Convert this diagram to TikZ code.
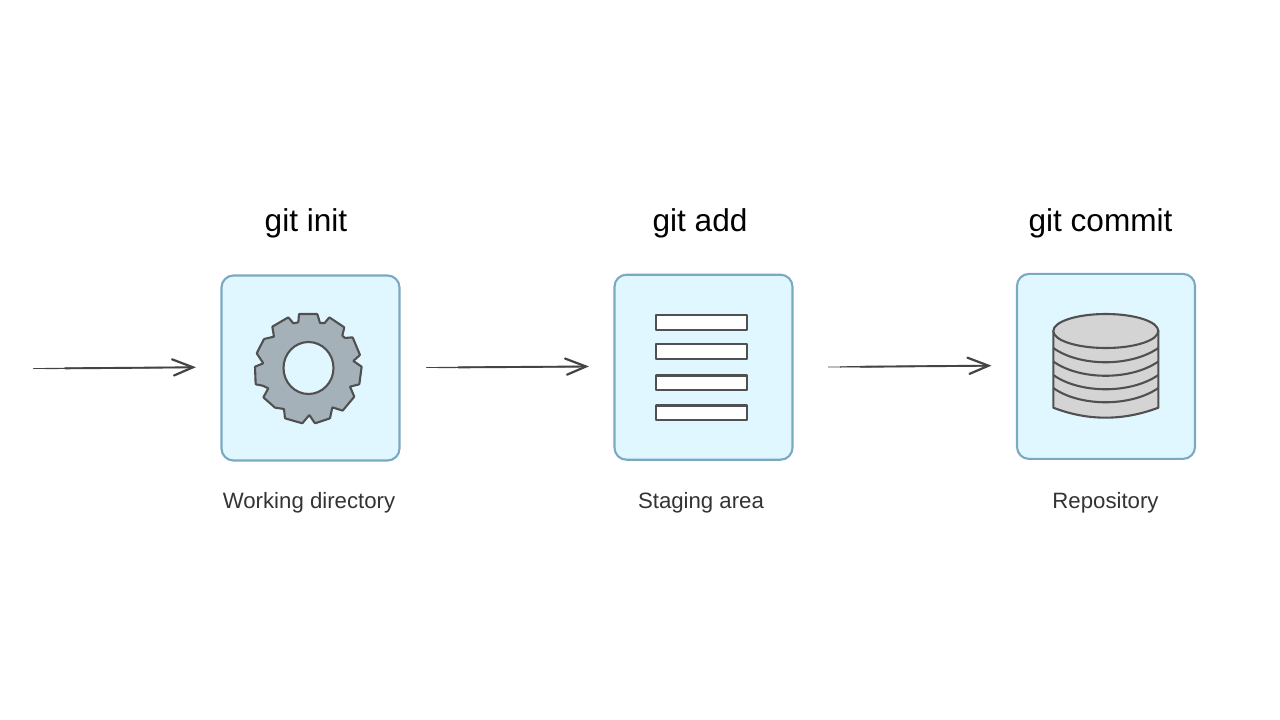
\documentclass[tikz,border=0pt]{standalone}
\usepackage{fontspec}
\setmainfont{Liberation Sans}
\usetikzlibrary{arrows.meta}
\definecolor{boxfill}{HTML}{E0F7FF}
\definecolor{boxline}{HTML}{7BA9C1}
\definecolor{gearfill}{HTML}{A4B1B8}
\definecolor{icon}{HTML}{505050}
\definecolor{cyl}{HTML}{D4D4D4}
\definecolor{arrowc}{HTML}{444444}
\tikzset{
  panel/.style={draw=boxline,fill=boxfill,line width=2.1pt,rounded corners=12pt,minimum width=178pt,minimum height=185pt,outer sep=0pt,inner sep=0pt},
  heading/.style={anchor=base,font=\fontsize{31.6}{32}\selectfont,text=black,inner sep=0pt},
  caption/.style={anchor=base,font=\fontsize{22.2}{23}\selectfont,text=black!80,inner sep=0pt},
  iconline/.style={draw=icon,line width=2.1pt,line join=round},
  bar/.style={iconline,fill=white},
  shaft thin/.style={draw=arrowc,line width=0.7pt},
  shaft mid/.style={draw=arrowc,line width=1.2pt,shorten <=12pt},
  shaft/.style={draw=arrowc,line width=1.9pt,shorten <=32pt,shorten >=1pt},
  head/.style={draw=arrowc,line width=2.2pt,line cap=round,line join=miter}
}
\newcommand{\sketcharrow}[2]{%
  \draw[shaft thin] (#1) -- (#2);
  \draw[shaft mid] (#1) -- (#2);
  \draw[shaft] (#1) -- (#2);
  \draw[head] ([shift={(-21,-8)}]#2) -- (#2) -- ([shift={(-19,8.2)}]#2);
}
\begin{document}
\begin{tikzpicture}[x=1pt,y=-1pt]
\useasboundingbox (0,0) rectangle (1280,720);
\fill[white] (0,0) rectangle (1280,720);
% panels
\node[panel] (wd) at (310.5,368) {};
\node[panel] (sa) at (703.5,367.2) {};
\node[panel] (re) at (1106,366.4) {};
% headings and captions
\node[heading] (h1) at (306,231.5) {git init};
\node[heading] (h2) at (700,231.5) {git add};
\node[heading] (h3) at (1100.5,231.5) {git commit};
\node[caption] (c1) at (309,508.5) {Working directory};
\node[caption] (c2) at (701,508.5) {Staging area};
\node[caption] (c3) at (1105.5,508.5) {Repository};
% gear
\begin{scope}[shift={(210,265)},x=0.3333pt,y=-0.3333pt]
\path[iconline,fill=gearfill,rounded corners=0.5pt]
 (267,147)--(322,147)--(330,174)--(344,174)--(358,157)--(403,187)--(397,212)--(405,219)--(428,217)
 --(450,270)--(430,288)--(455,305)--(448,358)--(420,365)--(433,395)--(398,437)--(367,427)--(360,460)
 --(315,475)--(298,450)--(277,475)--(225,460)--(222,432)--(195,428)--(160,397)--(175,370)--(158,362)
 --(137,358)--(135,305)--(160,295)--(140,265)--(162,222)--(192,215)--(187,185)--(235,157)--(250,175)--(265,172)--cycle;
\end{scope}
\draw[iconline,fill=boxfill] (308.5,368) ellipse [x radius=25,y radius=26];
% staging bars
\draw[bar] (656.3,315) rectangle (747,330.3);
\draw[bar] (656.3,344) rectangle (747,359.3);
\draw[bar] (656.3,375.5) rectangle (747,390);
\draw[bar] (656.3,405.5) rectangle (747,420.3);
% database
\draw[iconline,fill=cyl] (1053.3,331) -- (1053.3,407.7) .. controls (1088,421) and (1123,421) .. (1158.3,407.7) -- (1158.3,331) -- cycle;
\foreach \y in {348,361.5,375,388}{
  \draw[iconline] (1053.3,\y) .. controls (1080,\y+19) and (1131,\y+19) .. (1158.3,\y);
}
\draw[iconline,fill=cyl] (1105.8,331) ellipse [x radius=52.5,y radius=17];
% arrows
\coordinate (a1) at (33,368.6);
\coordinate (b1) at (193,367.3);
\coordinate (a2) at (426,367.6);
\coordinate (b2) at (586,366.5);
\coordinate (a3) at (828,367);
\coordinate (b3) at (988.5,365.7);
\sketcharrow{a1}{b1}
\sketcharrow{a2}{b2}
\sketcharrow{a3}{b3}
\end{tikzpicture}
\end{document}
